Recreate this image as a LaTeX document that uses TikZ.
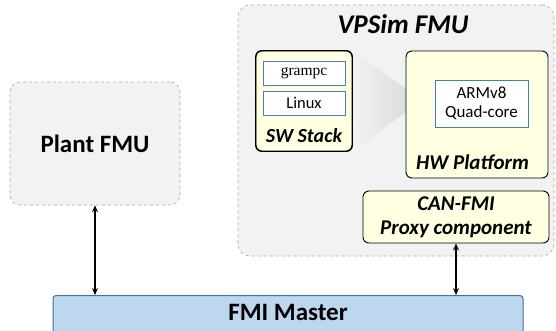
\documentclass[tikz,border=0pt]{standalone}
\usepackage{fontspec}
\setmainfont{Carlito}
\newfontfamily\camfont{Liberation Serif}
\usetikzlibrary{arrows.meta}
\definecolor{fmugray}{HTML}{F2F2F2}
\definecolor{fmuedge}{HTML}{A6A6A6}
\definecolor{compyellow}{HTML}{FFFFE1}
\definecolor{masterblue}{HTML}{BDD7EE}
\definecolor{masteredge}{HTML}{41719C}
\definecolor{coreblue}{HTML}{4A7EBB}

\begin{document}
\begin{tikzpicture}[x=1pt,y=-1pt,
  every node/.style={inner sep=0pt},
  fmubox/.style={draw=fmuedge,dashed,fill=fmugray,rounded corners=10pt,line width=0.6pt},
  compbox/.style={draw=black,fill=compyellow,rounded corners=6pt,line width=0.9pt},
  corebox/.style={draw=coreblue,fill=white,line width=1pt},
  link/.style={{Stealth[length=7pt,width=6pt]}-{Stealth[length=7pt,width=6pt]},line width=1.3pt}]
\useasboundingbox (0,0) rectangle (556,330);
% FMU containers
\node [fmubox,minimum width=170pt,minimum height=123pt] (plant) at (95,143.5) {};
\node [font=\fontsize{25}{28}\selectfont\bfseries] (plantlbl) at (95,143.5) {Plant FMU};
\node [fmubox,rounded corners=12pt,minimum width=316pt,minimum height=251pt] (vpsim) at (396,130.5) {};
\node [font=\fontsize{27}{30}\selectfont\bfseries\itshape] (vpsimlbl) at (403,24) {VPSim FMU};
% software stack and its mapping onto the platform
\node [compbox,minimum width=96pt,minimum height=100pt] (swstack) at (304,101) {};
\shade [left color=gray!10,right color=gray!32] (swstack.north east) -- (422,100) -- (swstack.south east) -- cycle;
\draw [compbox,fill=none] (swstack.north east) rectangle (swstack.south west);
\node [corebox,minimum width=82pt,minimum height=24pt,font=\camfont\fontsize{15.5}{18}\selectfont] (grampc) at (304,73) {grampc};
\node [corebox,minimum width=82pt,minimum height=24pt,font=\fontsize{16.5}{18}\selectfont] (linux) at (304,103) {Linux};
\node [font=\fontsize{20}{24}\selectfont\bfseries\itshape] (swlbl) at (304,136) {SW Stack};
\node [compbox,minimum width=142pt,minimum height=127pt] (hw) at (477,114.5) {};
\node [corebox,minimum width=93pt,minimum height=47pt,align=center,font=\fontsize{17}{19}\selectfont] (arm) at (481.5,103.5) {ARMv8\\Quad-core};
\node [font=\fontsize{21}{24}\selectfont\bfseries\itshape] (hwlbl) at (472.5,162) {HW Platform};
\node [compbox,minimum width=186pt,minimum height=52pt,align=center,font=\fontsize{21}{24}\selectfont\bfseries\itshape] (proxy) at (456,217) {CAN-FMI\\Proxy component};
% master
\begin{scope}
\clip (0,0) rectangle (556,330);
\node [draw=masteredge,fill=masterblue,rounded corners=3pt,line width=1pt,minimum width=470pt,minimum height=50pt,anchor=north] (master) at (288,295) {};
\end{scope}
\node [font=\fontsize{25}{28}\selectfont\bfseries] (masterlbl) at (288,312) {FMI Master};
% links
\draw [link] (plant.south) -- (plant.south |- master.north);
\draw [link] (proxy.south) -- (proxy.south |- master.north);
\end{tikzpicture}
\end{document}
